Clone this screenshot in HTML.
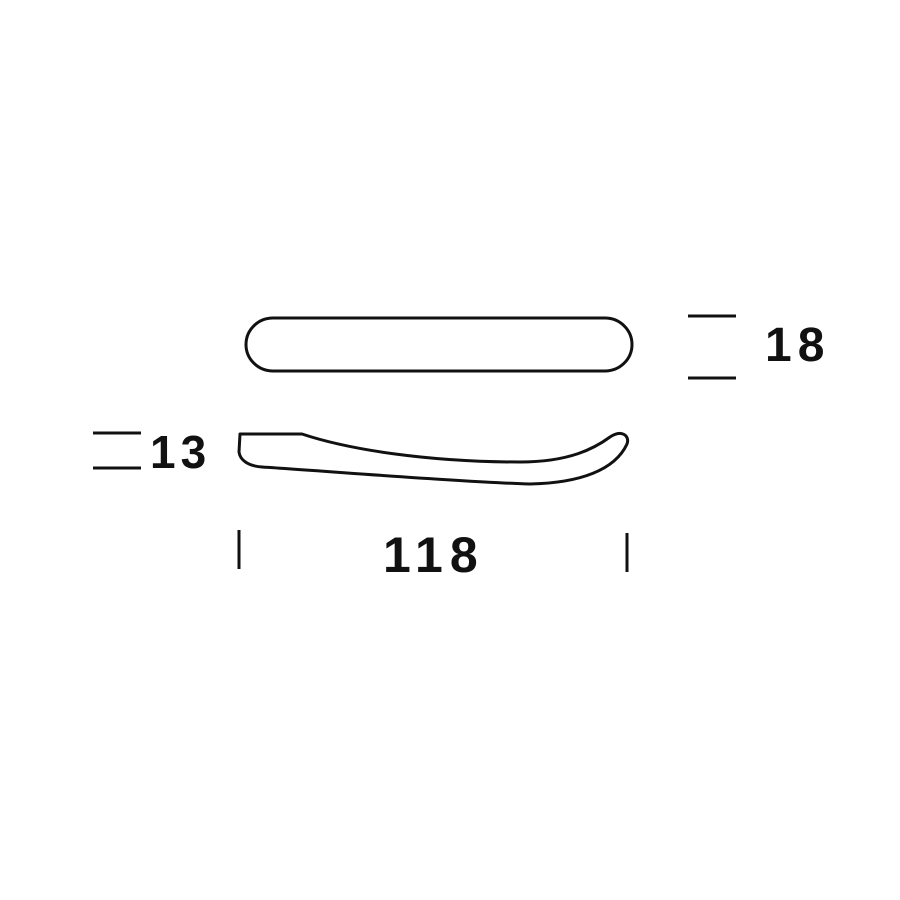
<!DOCTYPE html>
<html><head><meta charset="utf-8"><style>
html,body{margin:0;padding:0;background:#fff;width:900px;height:900px;overflow:hidden}
svg{display:block}
text{font-family:"Liberation Sans",sans-serif;font-weight:bold;fill:#111}
</style></head><body>
<svg width="900" height="900" viewBox="0 0 900 900">
<rect x="0" y="0" width="900" height="900" fill="#fff"/>
<rect x="246" y="318" width="386" height="53" rx="27" ry="27" fill="none" stroke="#111" stroke-width="3"/>
<line x1="688" y1="316" x2="736" y2="316" stroke="#111" stroke-width="3"/>
<line x1="688" y1="378" x2="736" y2="378" stroke="#111" stroke-width="3"/>
<text x="765" y="361" font-size="48" letter-spacing="6">18</text>
<path d="M240 434 L302 434 C350 450 430 462 520 462 C570 462 595 448 610 437 C622 429 630 436 627 444 C615 470 580 483 530 484 C460 482 340 472 262 467 C248 466 240 460 239 452 Z" fill="none" stroke="#111" stroke-width="3" stroke-linejoin="round"/>
<line x1="93" y1="433" x2="141" y2="433" stroke="#111" stroke-width="3"/>
<line x1="93" y1="468" x2="141" y2="468" stroke="#111" stroke-width="3"/>
<text x="150" y="468" font-size="46" letter-spacing="5">13</text>
<line x1="239" y1="530" x2="239" y2="569" stroke="#111" stroke-width="3"/>
<line x1="627" y1="533" x2="627" y2="572" stroke="#111" stroke-width="3"/>
<text x="383" y="572" font-size="50" letter-spacing="7">118</text>
</svg>
</body></html>
